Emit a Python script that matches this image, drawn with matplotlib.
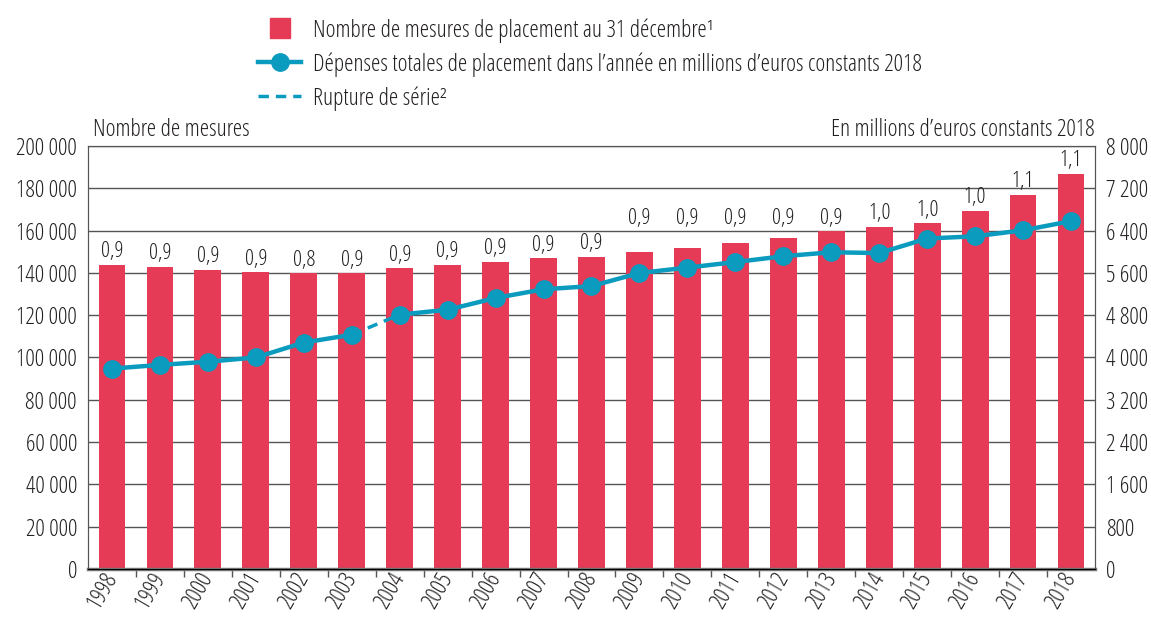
import matplotlib
matplotlib.use("Agg")
import matplotlib.pyplot as plt
import numpy as np
from matplotlib import font_manager as fm
from matplotlib.lines import Line2D
from matplotlib.ticker import FuncFormatter

plt.rcParams["font.family"] = ["Open Sans", "DejaVu Sans"]
plt.rcParams["font.stretch"] = "condensed"
# use a regular-ish condensed weight when one is installed, else the light one
cond_w = sorted({int(f.weight) for f in fm.fontManager.ttflist
                 if f.name == "Open Sans" and f.stretch == "condensed" and f.style == "normal"
                 and str(f.weight).isdigit()})
mid = [w for w in cond_w if 400 <= w <= 600]
plt.rcParams["font.weight"] = mid[0] if mid else "normal"

years = np.arange(1998, 2019)
mesures = [143700, 142900, 141400, 140200, 139800, 139800, 142100, 143700, 145300, 146900,
           147600, 150000, 151700, 154100, 156300, 159600, 161900, 163400, 169200, 176900, 186700]
depenses = [3790, 3860, 3920, 4000, 4283, 4430, 4811, 4903, 5125, 5290,
            5350, 5598, 5700, 5805, 5915, 5990, 5975, 6250, 6292, 6405, 6578]
ratio = ["0,9", "0,9", "0,9", "0,9", "0,8", "0,9", "0,9", "0,9", "0,9", "0,9", "0,9",
         "0,9", "0,9", "0,9", "0,9", "0,9", "1,0", "1,0", "1,0", "1,1", "1,1"]

RED = "#e63b57"
BLUE = "#0a9bbf"
TXT = "#231f20"
GRID = "#555555"
FS = 17

fig = plt.figure(figsize=(11.51, 6.17), dpi=100)
ax = fig.add_axes([0.0765, 0.0778, 0.8748, 0.6856])
ax2 = ax.twinx()

x = np.arange(len(years))
ax.bar(x, mesures, width=0.56, color=RED, zorder=2)

# labels above bars; 2009-2012 aligned on the 2013 level
mes = np.array(mesures)
lvl = np.where(years >= 2009, np.maximum(mes, mes[years == 2013][0]), mes)
for xi, yi, txt in zip(x, lvl, ratio):
    ax.annotate(txt, (xi, yi), xytext=(0, 2), textcoords="offset points",
                ha="center", va="bottom", fontsize=16, color=TXT)

ax.set_ylim(0, 200000)
ax.set_xlim(-0.5, len(years) - 0.5)
ax.set_yticks(np.arange(0, 200001, 20000))
ax.yaxis.set_major_formatter(FuncFormatter(lambda v, p: f"{int(v):,}".replace(",", " ")))
ax.grid(axis="y", color=GRID, lw=1, zorder=0)
ax.set_axisbelow(True)
ax.tick_params(axis="y", length=0, pad=8, labelsize=FS, labelcolor=TXT)

ax.set_xticks(x[:-1] + 0.5)
ax.set_xticklabels([])
ax.tick_params(axis="x", which="major", length=6, width=1, color=GRID)
ax.set_xticks(x, minor=True)
ax.set_xticklabels([str(y) for y in years], minor=True, rotation=60,
                   ha="right", va="center", rotation_mode="anchor", fontsize=FS, color=TXT)
ax.tick_params(axis="x", which="minor", length=0, pad=4)

for s in ["left", "right", "top"]:
    ax.spines[s].set_color(GRID)
    ax2.spines[s].set_color(GRID)
ax.spines["bottom"].set_color("#777777")
ax.spines["bottom"].set_linewidth(2.5)
ax.spines["bottom"].set_zorder(3)

# line: dashed break between 2003 and 2004
dep = np.array(depenses)
brk = int(np.where(years == 2003)[0][0])
ax2.plot(x[:brk + 1], dep[:brk + 1], color=BLUE, lw=3.2, zorder=3)
ax2.plot(x[brk:brk + 2], dep[brk:brk + 2], color=BLUE, lw=2.5, ls=(0, (3, 2)), zorder=3)
ax2.plot(x[brk + 1:], dep[brk + 1:], color=BLUE, lw=3.2, zorder=3)
ax2.plot(x, dep, ls="none", marker="o", ms=12.5, color=BLUE, zorder=4)
ax2.set_ylim(0, 8000)
ax2.set_yticks(np.arange(0, 8001, 800))
ax2.yaxis.set_major_formatter(FuncFormatter(lambda v, p: f"{int(v):,}".replace(",", " ")))
ax2.tick_params(axis="y", length=0, pad=8, labelsize=FS, labelcolor=TXT)

ax.text(0.005, 1.01, "Nombre de mesures", transform=ax.transAxes, ha="left", va="bottom",
        fontsize=FS, color=TXT)
ax.text(1.0, 1.01, "En millions d’euros constants 2018", transform=ax.transAxes,
        ha="right", va="bottom", fontsize=FS, color=TXT)

handles = [
    Line2D([], [], ls="none", marker="s", ms=14, color=RED),
    Line2D([], [], color=BLUE, lw=3.2, marker="o", ms=12.5),
    Line2D([], [], color=BLUE, lw=2.5, ls=(0, (3, 2))),
]
labels = [
    "Nombre de mesures de placement au 31 décembre¹",
    "Dépenses totales de placement dans l’année en millions d’euros constants 2018",
    "Rupture de série²",
]
fig.legend(handles, labels, loc="upper left", bbox_to_anchor=(0.206, 1.005), frameon=False,
           fontsize=FS, labelspacing=0.4, handlelength=1.8, handletextpad=0.5,
           labelcolor=TXT)

fig.savefig("out.png", dpi=100)
